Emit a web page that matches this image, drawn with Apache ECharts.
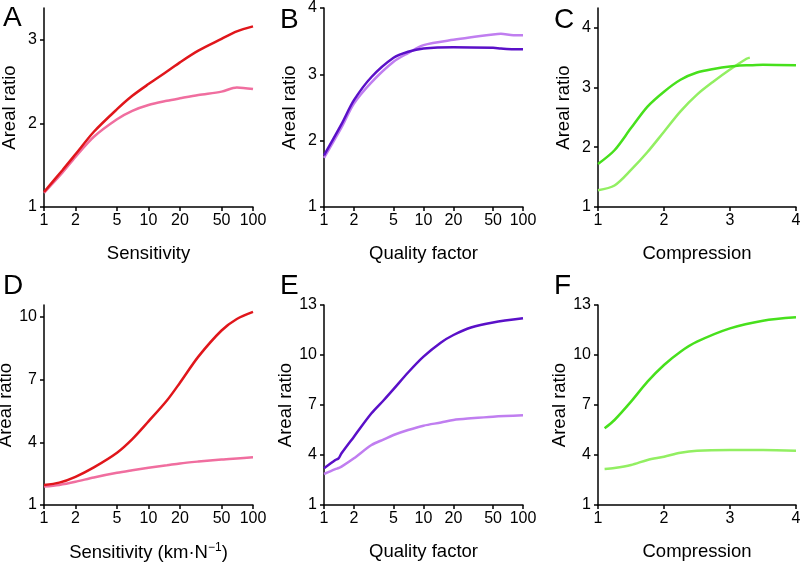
<!DOCTYPE html>
<html>
<head>
<meta charset="utf-8">
<script src="https://cdn.jsdelivr.net/npm/echarts@6/dist/echarts.min.js"></script>
<style>
html, body { margin: 0; padding: 0; background: #fff; }
#main { width: 800px; height: 562px; }
</style>
</head>
<body>
<div id="main"></div>
<script>
// panel A - sensitivity
var xA = [1, 1.5, 2, 3, 5, 7, 10, 15, 20, 30, 50, 70, 100];
var aDark = [1.18, 1.44, 1.63, 1.90, 2.17, 2.33, 2.47, 2.62, 2.73, 2.87, 3.01, 3.10, 3.16];
var aLight = [1.17, 1.41, 1.60, 1.84, 2.05, 2.15, 2.22, 2.27, 2.30, 2.34, 2.38, 2.43, 2.41];
// panel B - quality factor
var xB = [1, 1.5, 2, 3, 5, 7, 10, 20, 50, 60, 80, 100];
var bDark = [1.78, 2.25, 2.61, 2.96, 3.25, 3.34, 3.39, 3.41, 3.40, 3.39, 3.38, 3.38];
var bLight = [1.74, 2.2, 2.56, 2.88, 3.19, 3.32, 3.44, 3.52, 3.6, 3.61, 3.59, 3.59];
// panel C - compression
var xC = [1, 1.25, 1.5, 1.75, 2, 2.25, 2.5, 2.75, 3, 3.25, 3.3, 3.5, 4];
var cDark = [1.72, 1.95, 2.32, 2.68, 2.93, 3.13, 3.25, 3.31, 3.35, 3.37, 3.37, 3.38, 3.37];
var cLight = [1.28, 1.36, 1.62, 1.92, 2.26, 2.6, 2.88, 3.1, 3.3, 3.48, 3.5, null, null];
// panel D - sensitivity (km/N)
var xD = [1, 1.4, 2, 3, 5, 7, 10, 15, 20, 30, 50, 70, 100];
var dDark = [1.96, 2.07, 2.35, 2.8, 3.5, 4.15, 5.0, 6.0, 6.85, 8.1, 9.35, 9.9, 10.24];
var dLight = [1.88, 1.96, 2.11, 2.32, 2.54, 2.66, 2.78, 2.9, 2.99, 3.08, 3.18, 3.23, 3.28];
// panel E - quality factor
var xE = [1, 1.3, 1.4, 1.5, 2, 3, 4, 5, 7, 10, 15, 20, 30, 50, 100];
var eDark = [3.2, 3.7, 3.8, 4.1, 5.1, 6.5, 7.3, 7.95, 8.95, 9.9, 10.75, 11.2, 11.65, 11.95, 12.2];
var eLight = [2.86, 3.15, 3.22, 3.3, 3.8, 4.6, 4.94, 5.2, 5.5, 5.76, 5.95, 6.1, 6.2, 6.3, 6.38];
// panel F - compression
var xF = [1.1, 1.25, 1.5, 1.75, 2, 2.25, 2.5, 3, 3.5, 4];
var fDark = [5.6, 6.1, 7.2, 8.4, 9.4, 10.2, 10.8, 11.6, 12.06, 12.26];
var fLight = [3.16, 3.22, 3.4, 3.7, 3.9, 4.14, 4.26, 4.3, 4.3, 4.26];

var logTicks = [1, 2, 5, 10, 20, 50, 100];
var colors = {
    red: '#e0161b', pink: '#f06e9f',
    purple: '#5a10c8', lilac: '#c07ef0',
    green: '#47e01c', lime: '#92ef62'
};
var font = 'Liberation Sans, Arial, Helvetica, sans-serif';

function zip(xs, ys) {
    var out = [];
    for (var i = 0; i < xs.length; i++) {
        if (ys[i] != null) out.push([xs[i], ys[i]]);
    }
    return out;
}

var panels = [
    {letter: 'A', grid: {left: 44, top: 8, width: 209, height: 199}, log: true, xName: 'Sensitivity',
        yMax: 3.38, yTicks: [1, 2, 3], x: xA, dark: aDark, light: aLight, c1: colors.red, c2: colors.pink, lx: 3, ly: 4},
    {letter: 'B', grid: {left: 324, top: 8, width: 199, height: 199}, log: true, xName: 'Quality factor',
        yMax: 4, yTicks: [1, 2, 3, 4], x: xB, dark: bDark, light: bLight, c1: colors.purple, c2: colors.lilac, lx: 280, ly: 6},
    {letter: 'C', grid: {left: 598, top: 8, width: 198, height: 199}, log: false, xName: 'Compression',
        yMax: 4.33, yTicks: [1, 2, 3, 4], x: xC, dark: cDark, light: cLight, c1: colors.green, c2: colors.lime, lx: 554, ly: 6},
    {letter: 'D', grid: {left: 44, top: 305, width: 209, height: 200}, log: true, xName: 'Sensitivity (km·N{sup|−1})',
        yMax: 10.57, yTicks: [1, 4, 7, 10], x: xD, dark: dDark, light: dLight, c1: colors.red, c2: colors.pink, lx: 3, ly: 272},
    {letter: 'E', grid: {left: 324, top: 305, width: 199, height: 200}, log: true, xName: 'Quality factor',
        yMax: 13, yTicks: [1, 4, 7, 10, 13], x: xE, dark: eDark, light: eLight, c1: colors.purple, c2: colors.lilac, lx: 280, ly: 272},
    {letter: 'F', grid: {left: 598, top: 305, width: 198, height: 200}, log: false, xName: 'Compression',
        yMax: 13, yTicks: [1, 4, 7, 10, 13], x: xF, dark: fDark, light: fLight, c1: colors.green, c2: colors.lime, lx: 554, ly: 272}
];

var option = {
    backgroundColor: '#fff',
    animation: false,
    textStyle: {fontFamily: font},
    grid: [], xAxis: [], yAxis: [], series: [], graphic: []
};

var axisLine = {lineStyle: {color: '#000', width: 1.5}};
var axisTick = {lineStyle: {color: '#000', width: 1.5}, length: 4};

panels.forEach(function (p, i) {
    option.grid.push(Object.assign({outerBoundsMode: 'none', containLabel: false}, p.grid));
    option.xAxis.push({
        gridIndex: i,
        type: p.log ? 'log' : 'value',
        logBase: 10,
        min: 1, max: p.log ? 100 : 4,
        name: p.xName,
        nameLocation: 'middle',
        nameGap: 37,
        nameTextStyle: {
            fontSize: 18.5, color: '#000', fontFamily: font,
            rich: {sup: {fontSize: 12, color: '#000', verticalAlign: 'top', padding: [0, 0, 10, 0], fontFamily: font}}
        },
        axisLine: axisLine,
        axisTick: Object.assign({customValues: p.log ? logTicks : [1, 2, 3, 4]}, axisTick),
        axisLabel: {
            customValues: p.log ? logTicks : [1, 2, 3, 4],
            formatter: function (v) { return String(Math.round(v * 100) / 100); },
            fontSize: 16, color: '#000', margin: 6, fontFamily: font
        },
        splitLine: {show: false}
    });
    option.yAxis.push({
        gridIndex: i,
        type: 'value',
        min: 1, max: p.yMax,
        name: 'Areal ratio',
        nameLocation: 'middle',
        nameGap: 25,
        nameTextStyle: {fontSize: 18.5, color: '#000', fontFamily: font},
        axisLine: axisLine,
        axisTick: Object.assign({customValues: p.yTicks}, axisTick),
        axisLabel: {customValues: p.yTicks, fontSize: 16, color: '#000', margin: 7, fontFamily: font},
        splitLine: {show: false}
    });
    option.series.push({
        type: 'line', xAxisIndex: i, yAxisIndex: i,
        data: zip(p.x, p.light), smooth: 0.3, symbol: 'none',
        lineStyle: {color: p.c2, width: 2.5}
    });
    option.series.push({
        type: 'line', xAxisIndex: i, yAxisIndex: i,
        data: zip(p.x, p.dark), smooth: 0.3, symbol: 'none',
        lineStyle: {color: p.c1, width: 2.5}
    });
    option.graphic.push({
        type: 'text', left: p.lx, top: p.ly,
        style: {text: p.letter, fontSize: 28, fill: '#000', fontFamily: font}
    });
});

var chart = echarts.init(document.getElementById('main'));
chart.setOption(option);
</script>
</body>
</html>
